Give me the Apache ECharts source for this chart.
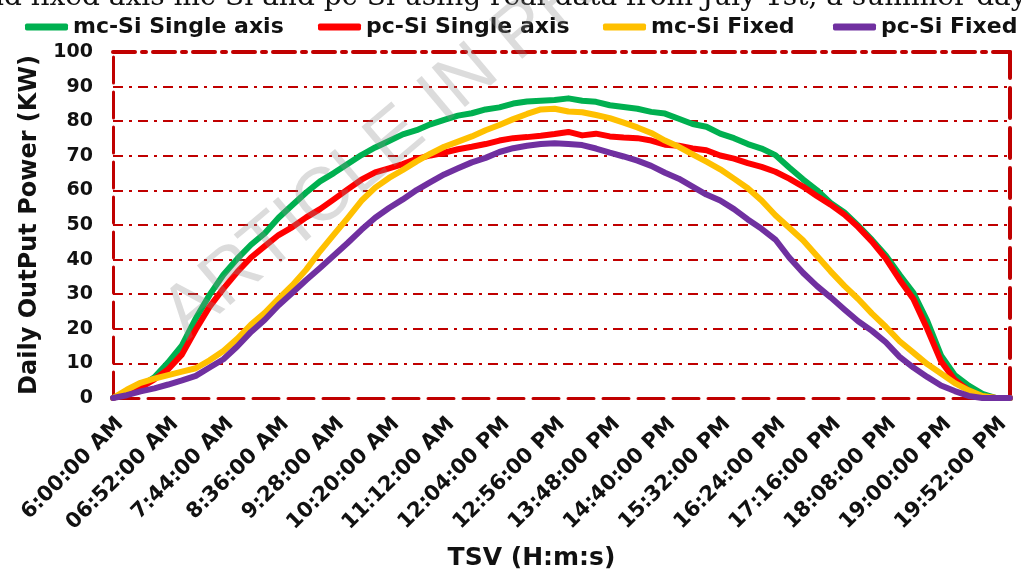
<!DOCTYPE html>
<html>
<head>
<meta charset="utf-8">
<script src="https://cdn.jsdelivr.net/npm/echarts@6/dist/echarts.min.js"></script>
<style>
  html, body { margin: 0; padding: 0; background: #fff; }
  #container { width: 1021px; height: 570px; }
</style>
</head>
<body>
<div id="container"></div>
<script>
var dom = document.getElementById("container");
var myChart = echarts.init(dom, null, { renderer: 'canvas' });

// tick labels every 52 minutes (every 4th sample, samples are 13 min apart)
var tickLabels = ['6:00:00 AM', '06:52:00 AM', '7:44:00 AM', '8:36:00 AM', '9:28:00 AM',
    '10:20:00 AM', '11:12:00 AM', '12:04:00 PM', '12:56:00 PM', '13:48:00 PM',
    '14:40:00 PM', '15:32:00 PM', '16:24:00 PM', '17:16:00 PM', '18:08:00 PM',
    '19:00:00 PM', '19:52:00 PM'];

var seriesNames = ['mc-Si Single axis', 'pc-Si Single axis', 'mc-Si Fixed', 'pc-Si Fixed'];
var seriesColors = ['#00B050', '#FF0000', '#FFC000', '#7030A0'];

var mcSingle = [0, 1.5, 3.4, 6, 10.3, 15.2, 23, 29.8, 35.6, 40.2,
    44.3, 47.6, 52.1, 55.8, 59.4, 62.6, 65, 67.6, 70.2, 72.4,
    74.3, 76.2, 77.4, 79.1, 80.4, 81.6, 82.3, 83.4, 84, 85.1,
    85.7, 85.9, 86.1, 86.6, 85.9, 85.6, 84.6, 84.1, 83.6, 82.7,
    82.2, 80.7, 79.2, 78.4, 76.4, 75.1, 73.4, 72.1, 70.2, 66.6,
    63.2, 60.1, 56.4, 53.6, 49.8, 45.7, 41.2, 35.6, 30.4, 22.3,
    12.3, 6.6, 3.6, 1.2, 0, 0];

var pcSingle = [0, 1.2, 3, 5.4, 8.3, 12.6, 19.8, 26.4, 31.6, 36.4,
    40.6, 43.9, 47.1, 49.4, 52.2, 54.6, 57.4, 60.3, 63.1, 65.2,
    66.4, 67.6, 69.1, 70.1, 70.9, 71.9, 72.6, 73.4, 74.4, 75.1,
    75.4, 75.8, 76.3, 76.9, 75.9, 76.4, 75.6, 75.3, 75.1, 74.4,
    73.2, 72.9, 72.1, 71.6, 70.1, 69.2, 67.9, 66.8, 65.4, 63.4,
    61.1, 58.4, 55.9, 53, 49.4, 45.2, 40.3, 34.2, 28.6, 20,
    10.6, 5.2, 2.2, 0.4, 0, 0];

var mcFixed = [0, 2.4, 4.4, 5.6, 6.6, 7.6, 8.6, 10.9, 13.6, 17.1,
    21.2, 24.6, 28.7, 32.6, 37.1, 42.4, 47.2, 52, 57, 60.8,
    63.6, 65.9, 68.4, 70.6, 72.6, 74.1, 75.6, 77.4, 78.9, 80.6,
    82.1, 83.4, 83.6, 82.8, 82.6, 81.8, 80.9, 79.6, 78.2, 76.6,
    74.4, 72.6, 70.4, 68.3, 66.1, 63.4, 60.6, 57.1, 52.8, 49.2,
    45.6, 41.1, 36.6, 32.4, 28.6, 24.4, 20.6, 16.4, 13.1, 9.8,
    7.1, 4.3, 2.2, 0.6, 0, 0];

var pcFixed = [0, 0.8, 1.9, 2.8, 3.9, 5.1, 6.4, 8.8, 11.2, 14.9,
    19.1, 22.6, 26.8, 30.4, 34.1, 37.6, 41.2, 44.8, 48.6, 52.1,
    54.9, 57.4, 60.1, 62.4, 64.6, 66.4, 68.1, 69.4, 71.1, 72.2,
    72.9, 73.4, 73.6, 73.4, 73.1, 72.1, 70.9, 69.8, 68.6, 67.1,
    65.1, 63.4, 61.1, 58.8, 57.1, 54.6, 51.6, 48.9, 45.8, 40.6,
    36.2, 32.4, 29.1, 25.6, 22.2, 19.4, 16.1, 11.9, 8.8, 6.1,
    3.6, 2, 0.6, 0, 0, 0];

function fmtTime(min) {
    var h = Math.floor(min / 60), m = min % 60;
    return h + ':' + (m < 10 ? '0' : '') + m + ':00 ' + (h < 12 ? 'AM' : 'PM');
}

var categories = [];
for (var i = 0; i < mcSingle.length; i++) {
    categories.push(i % 4 === 0 ? tickLabels[i / 4] : fmtTime(360 + 13 * i));
}

var borderRed = '#C00000';
var boldFont = 'DejaVu Sans';

var allData = [mcSingle, pcSingle, mcFixed, pcFixed];
var series = allData.map(function (d, k) {
    return {
        name: seriesNames[k],
        type: 'line',
        data: d,
        symbol: 'none',
        smooth: false,
        xAxisIndex: 0,
        yAxisIndex: 0,
        itemStyle: { color: seriesColors[k] },
        lineStyle: { color: seriesColors[k], width: 6, cap: 'round', join: 'round' },
        z: 3 + k
    };
});

// one legend per item so each sits where it does in the figure
var legendLeft = [20, 313, 598, 828];
var legends = seriesNames.map(function (name, k) {
    return {
        top: 11,
        left: legendLeft[k],
        itemWidth: 43,
        itemHeight: 7,
        icon: 'roundRect',
        data: [name],
        textStyle: { fontFamily: boldFont, fontWeight: 'bold', fontSize: 22, color: '#111' }
    };
});

var option = {
    backgroundColor: '#fff',
    animation: false,
    legend: legends,
    grid: { left: 113, right: 11, top: 52, bottom: 172, outerBoundsMode: 'none' },
    xAxis: [{
        type: 'category',
        data: categories,
        boundaryGap: false,
        axisLine: { onZero: false, lineStyle: { color: borderRed, width: 3, type: [26, 9] } },
        axisTick: { show: false },
        axisLabel: {
            interval: 3,
            rotate: 45,
            margin: 30,
            padding: [0, -10, 0, 0],
            color: '#111',
            fontFamily: boldFont,
            fontWeight: 'bold',
            fontSize: 21
        },
        splitLine: { show: false },
        name: 'TSV (H:m:s)',
        nameLocation: 'middle',
        nameGap: 148,
        nameTextStyle: {
            fontFamily: boldFont, fontWeight: 'bold', fontSize: 25, color: '#111',
            padding: [0, 60, 0, 0]
        }
    }, {
        type: 'category',
        data: categories,
        position: 'top',
        boundaryGap: false,
        axisLine: { onZero: false, lineStyle: { color: borderRed, width: 4, type: [22, 7, 4, 7] } },
        axisTick: { show: false },
        axisLabel: { show: false },
        splitLine: { show: false }
    }],
    yAxis: [{
        type: 'value',
        min: 0,
        max: 100,
        interval: 10,
        axisLine: { show: true, onZero: false, lineStyle: { color: borderRed, width: 3, type: [26, 9] } },
        axisTick: { show: false },
        axisLabel: {
            margin: 20,
            color: '#111',
            fontFamily: boldFont,
            fontWeight: 'bold',
            fontSize: 19
        },
        splitLine: {
            show: true,
            showMinLine: false,
            showMaxLine: false,
            lineStyle: { color: borderRed, width: 2, type: [10, 6, 3, 6] }
        },
        name: 'Daily OutPut Power (KW)',
        nameLocation: 'middle',
        nameGap: 71,
        nameTextStyle: { fontFamily: boldFont, fontWeight: 'bold', fontSize: 24, color: '#111' }
    }, {
        type: 'value',
        min: 0,
        max: 100,
        interval: 10,
        position: 'right',
        axisLine: { show: true, onZero: false, lineStyle: { color: borderRed, width: 4, type: [30, 10] } },
        axisTick: { show: false },
        axisLabel: { show: false },
        splitLine: { show: false }
    }],
    graphic: [{
        type: 'text',
        left: -14,
        top: -16,
        silent: true,
        style: {
            text: 'nd fixed axis mc-Si and pc-Si using real data from July 1st, a summer day',
            font: '28px "DejaVu Serif"',
            fill: '#111'
        }
    }, {
        type: 'text',
        x: 198,
        y: 354,
        rotation: 0.70,
        z: 100,
        silent: true,
        style: {
            text: 'ARTICLE IN PRESS',
            font: '75px "Liberation Sans"',
            fill: 'rgba(140,140,140,0.30)',
            verticalAlign: 'bottom'
        }
    }],
    series: series
};

myChart.setOption(option);
</script>
</body>
</html>
